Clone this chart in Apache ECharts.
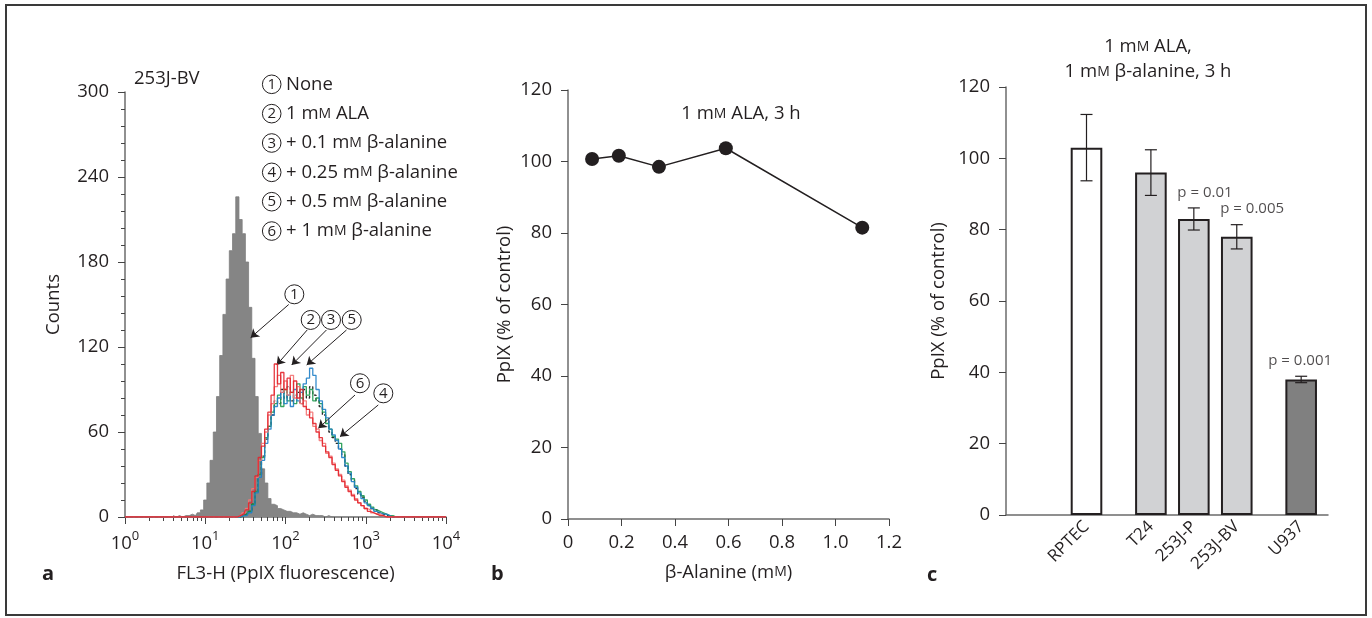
<!DOCTYPE html>
<html><head><meta charset="utf-8">
<script src="https://cdn.jsdelivr.net/npm/echarts@6/dist/echarts.min.js"></script>
<style>html,body{margin:0;padding:0;background:#fff}#c{width:1372px;height:618px}</style>
</head><body><div id="c"></div>
<script>
// ================= DATA =================
// Panel a: flow cytometry histograms (x = log10 of FL3-H channel, y = counts)
const grayBinsLog = [0.60,0.64,0.68,0.72,0.76,0.80,0.84,0.88,0.92,0.96,1.00,1.04,1.08,1.12,1.16,1.20,1.24,1.28,1.32,1.36,1.40,1.44,1.48,1.52,1.56,1.60,1.64,1.68,1.72,1.76,1.80,1.84,1.88,1.92,1.96,2.00,2.04,2.08,2.12,2.16,2.20,2.24,2.28,2.32,2.36,2.40,2.44,2.48,2.52,2.56,2.60];
const countsNone = [1,0,1,0,1,1,2,1,3,5, 12,24,40,60,85,114,143,168,188,200, 226,210,200,180,148,112,85,59,34,24, 13,9,8,6,5,4,4,3,3,2, 3,2,1,2,1,1,1,0,1,0, 0];
const colorBinsLog = [0.00,1.40,1.44,1.48,1.52,1.56,1.60,1.64,1.68,1.72,1.76,1.80,1.84,1.88,1.92,1.96,2.00,2.04,2.08,2.12,2.16,2.20,2.24,2.28,2.32,2.36,2.40,2.44,2.48,2.52,2.56,2.60,2.64,2.68,2.72,2.76,2.80,2.84,2.88,2.92,2.96,3.00,3.04,3.08,3.12,3.16,3.20,3.24,3.28,3.32,3.36,3.40,4.00];
const countsALA     = [0, 0,1,2,5,10,18,29,42,50,62, 74,86,108,94,102,90,98,88,96,84, 90,78,76,70,66,60,56,50,46,42, 37,33,29,25,21,18,15,12,10,8, 6,4,3,2,1,1,0,0,0,0, 0, 0];
const countsBeta01  = [0, 0,0,1,2,4,9,18,30,43,55, 64,72,82,80,90,84,92,82,86,88, 80,90,84,92,86,82,78,72,68,60, 56,52,48,44,36,30,26,20,16,14, 11,8,6,5,3,2,1,1,0,0, 0, 0];
const countsBeta025 = [0, 0,0,1,2,4,9,18,30,42,56, 64,74,80,86,78,90,82,88,80,94, 84,92,86,90,82,84,80,74,66,62, 57,55,52,46,38,32,27,22,18,15, 12,9,7,5,4,3,2,1,1,0, 0, 0];
const countsBeta05  = [0, 0,0,1,1,3,8,17,28,40,52, 62,72,78,84,88,80,86,78,90,82, 88,94,98,105,100,90,82,76,70,62, 58,54,48,42,36,31,25,21,17,13, 10,8,6,4,3,2,2,1,0,0, 0, 0];
const countsBeta1   = [0, 0,1,3,6,12,20,28,40,52,60, 72,80,92,100,88,96,86,100,84,92, 80,82,72,74,64,62,54,52,45,43, 38,34,30,26,22,19,16,13,10,8, 6,5,3,2,2,1,0,0,0,0, 0, 0];
const legendLabelsA = ['None','1 m{sc|M} ALA','+ 0.1 m{sc|M} β-alanine','+ 0.25 m{sc|M} β-alanine','+ 0.5 m{sc|M} β-alanine','+ 1 m{sc|M} β-alanine'];

// Panel b
const betaAlanineMM = [0.09, 0.19, 0.34, 0.59, 1.10];
const ppixPercentB  = [100.7, 101.6, 98.5, 103.7, 81.5];

// Panel c
const cellLines    = ['RPTEC','T24','253J-P','253J-BV','U937'];
const ppixPercentC = [103, 96, 83, 78, 38];
const ppixErrC     = [9.3, 6.4, 3.1, 3.4, 0.9];
const pValueLabels = ['', '', 'p = 0.01', 'p = 0.005', 'p = 0.001'];

// ================= STYLE / LAYOUT =================
const FONT = "'Open Sans','DejaVu Sans',sans-serif";
const FS = 18.5;
const INK = '#231f20';
const AX = '#6b6b6b';
const sc = { sc: { fontSize: 14, fontFamily: FONT, color: INK } };
const slotX = [3.75, 6.75, 8.75, 10.75, 13.75];   // bar slots on panel c's hidden scale
const barFill = ['#ffffff', '#d1d2d4', '#d1d2d4', '#d1d2d4', '#808080'];
const minorLog = [];
for (let d = 0; d < 4; d++) for (let k = 2; k <= 9; k++) minorLog.push(d + Math.log10(k));

const zip = (xs, ys) => xs.map((x, i) => [x, ys[i]]);

const axisLineS = { lineStyle: { color: AX, width: 1.5 } };
const tickS = (len) => ({ show: true, inside: false, length: len, lineStyle: { color: '#444', width: 1 } });
const labS = (m) => ({ color: INK, fontSize: FS, fontFamily: FONT, margin: m });
const nameS = { color: INK, fontSize: FS, fontFamily: FONT, rich: sc };

const histLine = (name, data, color, type, z) => ({
  name, type: 'line', xAxisIndex: 0, yAxisIndex: 0, data, step: 'middle', symbol: 'none',
  lineStyle: { color, width: 1.3, type: type || 'solid', opacity: 0.9 }, z: z, silent: true
});

const circ = (label, coord) => ({ name: label, coord });
const arrow = (a, b) => [{ coord: a }, { coord: b }];

const txt = (x, y, text, extra) => ({ type: 'text', x, y,
  style: Object.assign({ text, rich: sc, fontSize: FS, fontFamily: FONT, fill: INK, verticalAlign: 'middle' }, extra || {}) });

const graphics = [
  { type: 'rect', shape: { x: 6, y: 5, width: 1360, height: 610 }, style: { fill: 'none', stroke: '#3a3a3a', lineWidth: 2 }, z: 100 },
  txt(134, 79, '253J-BV'),
  txt(42, 574, 'a', { fontSize: 20, fontWeight: 'bold' }),
  txt(491, 574, 'b', { fontSize: 20, fontWeight: 'bold' }),
  txt(927, 575, 'c', { fontSize: 20, fontWeight: 'bold' }),
  txt(741, 114, '1 m{sc|M} ALA, 3 h', { align: 'center' }),
  txt(1148, 47, '1 m{sc|M} ALA,', { align: 'center' }),
  txt(1148, 72, '1 m{sc|M} β-alanine, 3 h', { align: 'center' })
];
legendLabelsA.forEach((t, i) => {
  const cy = 84.3 + 29.35 * i;
  graphics.push({ type: 'circle', shape: { cx: 271.7, cy, r: 9.3 }, style: { fill: '#fff', stroke: INK, lineWidth: 1 } });
  graphics.push(txt(271.7, cy + 0.5, String(i + 1), { fontSize: 15, align: 'center' }));
  graphics.push(txt(286, cy, t));
});

const option = {
  animation: false,
  backgroundColor: '#fff',
  textStyle: { fontFamily: FONT },
  grid: [
    { left: 125, top: 92, width: 321, height: 425 },
    { left: 568, top: 90, width: 321, height: 429 },
    { left: 1006, top: 87, width: 322, height: 428 }
  ],
  xAxis: [
    { gridIndex: 0, type: 'value', min: 0, max: 4, interval: 1, position: 'bottom',
      axisLine: axisLineS, axisTick: tickS(7), splitLine: { show: false },
      axisLabel: { margin: 13, formatter: v => '{b|10}{s|' + v + '}',
        rich: { b: { fontSize: FS, fontFamily: FONT, color: INK, lineHeight: 23, verticalAlign: 'bottom' },
                s: { fontSize: 13, fontFamily: FONT, color: INK, lineHeight: 13, verticalAlign: 'top' } } },
      name: 'FL3-H (PpIX fluorescence)', nameLocation: 'middle', nameGap: 47, nameTextStyle: nameS },
    { gridIndex: 0, type: 'value', min: 0, max: 4, position: 'bottom',
      axisLine: { show: false }, axisLabel: { show: false }, splitLine: { show: false },
      axisTick: { show: true, length: 4, customValues: minorLog, lineStyle: { color: '#444', width: 1 } } },
    { gridIndex: 1, type: 'value', min: 0, max: 1.2, interval: 0.2,
      axisLine: axisLineS, axisTick: tickS(7), splitLine: { show: false },
      axisLabel: Object.assign(labS(14), { formatter: v => v === 0 ? '0' : v.toFixed(1) }),
      name: 'β-Alanine (m{sc|M})', nameLocation: 'middle', nameGap: 44, nameTextStyle: nameS },
    { gridIndex: 2, type: 'value', min: 0, max: 15,
      axisLine: axisLineS, axisTick: { show: false }, splitLine: { show: false },
      axisLabel: { customValues: slotX, rotate: 45, margin: 9, color: INK, fontSize: 17, fontFamily: FONT,
        formatter: v => cellLines[slotX.indexOf(v)] || '' } }
  ],
  yAxis: [
    { gridIndex: 0, type: 'value', min: 0, max: 300, interval: 60,
      axisLine: { show: true, lineStyle: { color: AX, width: 1.5 } }, axisTick: tickS(7),
      minorTick: { show: true, splitNumber: 5, length: 4, lineStyle: { color: '#444', width: 1 } },
      splitLine: { show: false }, axisLabel: labS(16),
      name: 'Counts', nameLocation: 'middle', nameGap: 62, nameTextStyle: nameS },
    { gridIndex: 1, type: 'value', min: 0, max: 120, interval: 20,
      axisLine: { show: true, lineStyle: { color: AX, width: 1.5 } }, axisTick: tickS(7),
      splitLine: { show: false }, axisLabel: labS(16),
      name: 'PpIX (% of control)', nameLocation: 'middle', nameGap: 54, nameTextStyle: nameS },
    { gridIndex: 2, type: 'value', min: 0, max: 120, interval: 20,
      axisLine: { show: true, lineStyle: { color: AX, width: 1.5 } }, axisTick: tickS(7),
      splitLine: { show: false }, axisLabel: labS(16),
      name: 'PpIX (% of control)', nameLocation: 'middle', nameGap: 58, nameTextStyle: nameS }
  ],
  series: [
    { name: 'None', type: 'line', xAxisIndex: 0, yAxisIndex: 0, data: zip(grayBinsLog, countsNone),
      step: 'middle', symbol: 'none', silent: true, z: 1,
      lineStyle: { color: '#7d7d7d', width: 0.8 }, areaStyle: { color: '#858585', opacity: 1 } },
    histLine('+ 0.1 mM β-alanine', zip(colorBinsLog, countsBeta01), '#111', [3, 2], 2),
    histLine('+ 0.25 mM β-alanine', zip(colorBinsLog, countsBeta025), '#1e9a4e', null, 3),
    histLine('+ 0.5 mM β-alanine', zip(colorBinsLog, countsBeta05), '#1f7fc6', null, 4),
    histLine('+ 1 mM β-alanine', zip(colorBinsLog, countsBeta1), '#f37474', null, 5),
    Object.assign(histLine('1 mM ALA', zip(colorBinsLog, countsALA), '#e3232b', null, 6), {
      markPoint: {
        silent: true, symbol: 'circle', symbolSize: 19,
        itemStyle: { color: '#fff', borderColor: INK, borderWidth: 1 },
        label: { show: true, position: 'inside', formatter: p => p.name, color: INK, fontSize: 15, fontFamily: FONT },
        data: [circ('1', [2.110, 157.2]), circ('2', [2.314, 139.1]), circ('3', [2.567, 139.1]),
               circ('5', [2.825, 139.1]), circ('6', [2.928, 94.4]), circ('4', [3.219, 87.3])]
      },
      markLine: {
        silent: true, symbol: ['none', 'arrow'], symbolSize: 8, label: { show: false },
        lineStyle: { color: INK, width: 1, type: 'solid' },
        data: [arrow([2.040, 150.0], [1.566, 126.6]), arrow([2.270, 132.0], [1.890, 107.3]),
               arrow([2.510, 132.0], [2.077, 107.3]), arrow([2.760, 132.0], [2.264, 107.3]),
               arrow([2.866, 86.1], [2.409, 62.6]), arrow([3.156, 79.1], [2.679, 56.7])]
      }
    }),
    { name: 'PpIX b', type: 'line', xAxisIndex: 2, yAxisIndex: 1, data: zip(betaAlanineMM, ppixPercentB),
      symbol: 'circle', symbolSize: 14, itemStyle: { color: INK }, lineStyle: { color: INK, width: 1.5 }, silent: true },
    { name: 'PpIX c', type: 'bar', xAxisIndex: 3, yAxisIndex: 2, barWidth: 31.6, silent: true,
      data: cellLines.map((n, i) => ({ name: n, value: [slotX[i], ppixPercentC[i]],
        itemStyle: { color: barFill[i], borderColor: INK, borderWidth: 2 } })) },
    { name: 'err', type: 'custom', xAxisIndex: 3, yAxisIndex: 2, z: 5, silent: true,
      encode: { x: 0, y: 1 },
      data: cellLines.map((n, i) => [slotX[i], ppixPercentC[i], ppixErrC[i]]),
      renderItem: (params, api) => {
        const x = api.value(0), m = api.value(1), e = api.value(2);
        const hi = api.coord([x, m + e]), lo = api.coord([x, m - e]);
        const w = 6, st = { stroke: INK, lineWidth: 1.2 };
        return { type: 'group', children: [
          { type: 'line', shape: { x1: hi[0], y1: hi[1], x2: lo[0], y2: lo[1] }, style: st },
          { type: 'line', shape: { x1: hi[0] - w, y1: hi[1], x2: hi[0] + w, y2: hi[1] }, style: st },
          { type: 'line', shape: { x1: lo[0] - w, y1: lo[1], x2: lo[0] + w, y2: lo[1] }, style: st }
        ] };
      } },
    { name: 'p', type: 'scatter', xAxisIndex: 3, yAxisIndex: 2, symbolSize: 0, silent: true,
      data: cellLines.map((n, i) => ({ value: [slotX[i], ppixPercentC[i] + ppixErrC[i]], name: pValueLabels[i],
        label: i === 4 ? { align: 'center', offset: [-1, 0] } : { align: 'left', offset: [-16.5, 0] } }))
        .filter(d => d.name !== ''),
      label: { show: true, position: 'top', distance: 8, formatter: p => p.name, color: INK, fontSize: 15, fontFamily: FONT } }
  ],
  graphic: graphics
};

const chart = echarts.init(document.getElementById('c'), null, { renderer: 'canvas' });
chart.setOption(option);
</script>
</body></html>
